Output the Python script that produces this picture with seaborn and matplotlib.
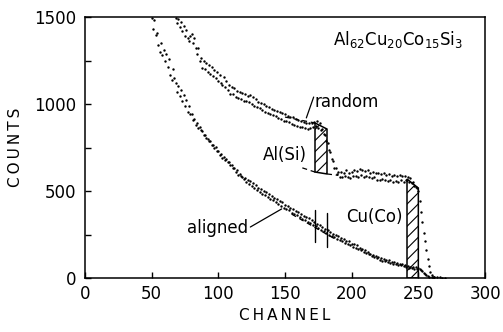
import matplotlib
matplotlib.use("Agg")
import matplotlib.pyplot as plt
import seaborn as sns
import pandas as pd
from matplotlib.ticker import MultipleLocator

# ---------------- data ----------------
aligned_ch = list(range(50, 259)) + [260, 262, 264, 266, 268, 270]
aligned_counts = [1495, 1430, 1480, 1395, 1410, 1340, 1300, 1350, 1280, 1310, 1245, 1290, 1215, 1260, 1165, 1140, 1200, 1150, 1120, 1070,
                  1105, 1045, 1080, 1020, 1050, 990, 1025, 955, 990, 940, 945, 910, 915, 880, 890, 862, 868, 848, 846, 822,
                  820, 805, 800, 785, 785, 762, 765, 748, 752, 728, 730, 708, 715, 692, 698, 680, 682, 664, 666, 650,
                  648, 632, 635, 610, 622, 590, 598, 585, 582, 568, 573, 552, 563, 538, 555, 528, 546, 516, 534, 505,
                  515, 494, 510, 484, 502, 476, 493, 464, 482, 455, 472, 446, 462, 435, 452, 426, 442, 414, 434, 405,
                  422, 396, 412, 388, 400, 376, 394, 366, 384, 360, 378, 348, 368, 340, 358, 334, 350, 324, 342, 316,
                  333, 306, 324, 296, 312, 286, 302, 276, 294, 270, 280, 258, 274, 250, 266, 244, 254, 234, 250, 226,
                  242, 220, 228, 210, 225, 204, 213, 194, 210, 190, 198, 180, 196, 170, 188, 164, 172, 160, 165, 148,
                  160, 142, 148, 136, 140, 126, 135, 120, 126, 116, 119, 106, 116, 100, 110, 96, 105, 92, 101, 86,
                  94, 83, 90, 80, 86, 77, 81, 72, 78, 68, 72, 63, 68, 58, 66, 56, 64, 54, 63, 52,
                  56, 50, 45, 38, 30, 22, 15, 10, 7, 5, 4, 3, 3, 2, 2]

random_ch = list(range(68, 263))
random_counts = [1495, 1465, 1490, 1440, 1470, 1420, 1450, 1390, 1428, 1378, 1362, 1392, 1400, 1350, 1380, 1320, 1290, 1322, 1250, 1262,
                 1205, 1248, 1200, 1236, 1185, 1222, 1170, 1215, 1160, 1198, 1150, 1185, 1132, 1168, 1120, 1110, 1158, 1100, 1135, 1080,
                 1108, 1055, 1095, 1060, 1090, 1040, 1075, 1035, 1068, 1030, 1064, 1020, 1058, 1015, 1048, 1010, 1052, 1000, 1038, 990,
                 1028, 985, 1012, 975, 1008, 965, 998, 955, 988, 950, 982, 940, 972, 935, 968, 930, 958, 920, 952, 915,
                 948, 905, 943, 900, 933, 895, 928, 885, 923, 880, 913, 875, 908, 870, 903, 865, 898, 860, 893, 855,
                 888, 862, 893, 868, 898, 872, 903, 862, 890, 850, 855, 825, 820, 785, 775, 735, 725, 685, 670, 635,
                 630, 600, 608, 582, 612, 578, 606, 584, 618, 578, 606, 572, 612, 584, 622, 588, 616, 582, 628, 594,
                 622, 582, 616, 588, 622, 578, 606, 572, 612, 578, 606, 566, 602, 562, 598, 568, 606, 562, 592, 556,
                 598, 562, 588, 552, 592, 558, 588, 550, 592, 562, 588, 552, 586, 562, 580, 552, 572, 545, 552, 530,
                 525, 515, 500, 440, 380, 320, 260, 210, 160, 110, 70, 35, 15, 8, 5]

# integration windows (hatched) : channel edges and counts
al_window_ch = [172.5, 181.5]
al_window_top = [891, 856]
al_window_bottom = [609, 598]
cu_window_ch = [241.5, 250.0]
cu_window_top = [569, 517]

# dashed guide lines
aligned_dash_ch = [155, 188]
aligned_dash_counts = [367, 222]
random_dash_low_ch = [163, 172.5]
random_dash_low_counts = [633, 609]
random_dash_low2_ch = [181.5, 190]
random_dash_low2_counts = [598, 590]
random_dash_top_ch = [150, 172.5]
random_dash_top_counts = [925, 891]

# vertical markers on aligned spectrum
aligned_marker_ch = [172.5, 181.5]
aligned_marker_lo = [207, 178]
aligned_marker_hi = [391, 374]

x_ticks = [0, 50, 100, 150, 200, 250, 300]
y_ticks = [0, 500, 1000, 1500]

# ---------------- drawing ----------------
sns.set_theme(style="white")
plt.rcParams['font.family'] = ['DejaVu Sans']
plt.rcParams['text.color'] = 'black'
plt.rcParams['hatch.linewidth'] = 0.8

fig = plt.figure(figsize=(5.03, 3.32), dpi=100)
ax = fig.add_axes([85 / 503, 1 - 278 / 332, 400 / 503, 261 / 332])

df = pd.concat([
    pd.DataFrame({"channel": aligned_ch, "counts": aligned_counts, "s": "aligned"}),
    pd.DataFrame({"channel": random_ch, "counts": random_counts, "s": "random"}),
])
sns.scatterplot(data=df, x="channel", y="counts", ax=ax, color="black",
                s=3, linewidth=0, legend=False)

# hatched windows
ax.fill([al_window_ch[0], al_window_ch[0], al_window_ch[1], al_window_ch[1]],
        [al_window_bottom[0], al_window_top[0], al_window_top[1], al_window_bottom[1]],
        facecolor="none", edgecolor="black", hatch="///", linewidth=1.1)
ax.fill([cu_window_ch[0], cu_window_ch[0], cu_window_ch[1], cu_window_ch[1]],
        [0, cu_window_top[0], cu_window_top[1], 0],
        facecolor="none", edgecolor="black", hatch="///", linewidth=1.1)

# dashed lines
for xs, ys in [(aligned_dash_ch, aligned_dash_counts),
               (random_dash_low_ch, random_dash_low_counts),
               (random_dash_low2_ch, random_dash_low2_counts),
               (random_dash_top_ch, random_dash_top_counts)]:
    ax.plot(xs, ys, color="black", lw=0.9, ls=(0, (4, 3)))

for c, lo, hi in zip(aligned_marker_ch, aligned_marker_lo, aligned_marker_hi):
    ax.plot([c, c], [lo, hi], color="black", lw=1.0)

# annotations
fs = 12
ax.text(283.5, 1339, r"$\mathrm{Al_{62}Cu_{20}Co_{15}Si_{3}}$", ha="right", va="baseline",
        fontsize=fs, color="black")
ax.text(172.5, 985, "random", ha="left", va="baseline", fontsize=fs, color="black")
ax.plot([171.5, 166], [1040, 920], color="black", lw=0.9)
ax.text(166.5, 678, "Al(Si)", ha="right", va="baseline", fontsize=fs, color="black")
ax.text(238.5, 322, "Cu(Co)", ha="right", va="baseline", fontsize=fs, color="black")
ax.text(122, 259, "aligned", ha="right", va="baseline", fontsize=fs, color="black")
ax.plot([124, 147.5], [293, 397], color="black", lw=0.9)

ax.set_xlim(0, 300)
ax.set_ylim(0, 1500)
ax.set_xticks(x_ticks)
ax.set_yticks(y_ticks)
ax.yaxis.set_minor_locator(MultipleLocator(250))
ax.tick_params(axis="both", which="both", direction="in", length=4, width=1,
               labelsize=fs, color="black", labelcolor="black",
               bottom=True, left=True, top=False, right=False)
ax.tick_params(axis="x", pad=5)
ax.tick_params(axis="y", pad=6)
for sp in ax.spines.values():
    sp.set_color("black")
    sp.set_linewidth(1.1)

ax.set_xlabel("C\u2009H\u2009A\u2009N\u2009N\u2009E\u2009L", fontsize=11, color="black", labelpad=4)
ax.set_ylabel("C\u2009O\u2009U\u2009N\u2009T\u2009S", fontsize=11, color="black", labelpad=8)

fig.savefig("out.png", dpi=100)
